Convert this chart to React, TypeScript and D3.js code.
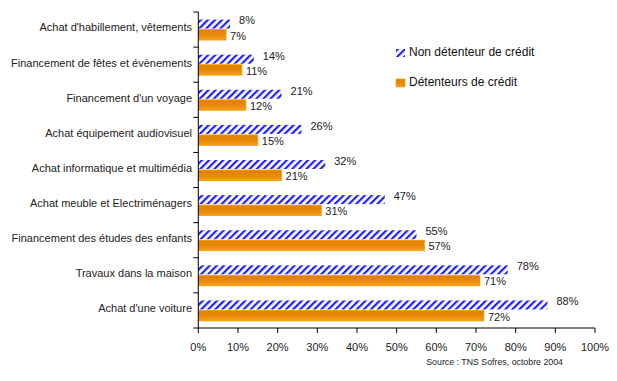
import React from "react";
import * as d3 from "d3";

const categories = [
  "Achat d'habillement, vêtements",
  "Financement de fêtes et évènements",
  "Financement d'un voyage",
  "Achat équipement audiovisuel",
  "Achat informatique et multimédia",
  "Achat meuble et Electriménagers",
  "Financement des études des enfants",
  "Travaux dans la maison",
  "Achat d'une voiture",
];
const nonDetenteur = [8, 14, 21, 26, 32, 47, 55, 78, 88];
const detenteurs = [7, 11, 12, 15, 21, 31, 57, 71, 72];
const xTicks = [0, 10, 20, 30, 40, 50, 60, 70, 80, 90, 100];
const seriesNames = ["Non détenteur de crédit", "Détenteurs de crédit"];
const source = "Source : TNS Sofres, octobre 2004";

const W = 617;
const H = 381;
const FONT = "'Liberation Sans', Arial, sans-serif";

export default function App() {
  const x = d3.scaleLinear().domain([0, 100]).range([198.3, 595]);
  const y = d3.scaleBand<string>().domain(categories).range([12, 328]).paddingInner(0).paddingOuter(0);
  const bw = y.bandwidth();
  const barH = 10.5;
  const axisY = 328;

  return (
    <svg
      width={W}
      height={H}
      style={{ position: "absolute", left: 0, top: 0, background: "#fff" }}
      fontFamily={FONT}
    >
      <defs>
        <pattern id="hatch" width="5" height="5" patternUnits="userSpaceOnUse" patternTransform="rotate(45)">
          <rect x="0" y="0" width="5" height="5" fill="#fff" />
          <rect x="0" y="0" width="2.2" height="5" fill="#1f1fff" />
        </pattern>
        <linearGradient id="orangeGrad" x1="0" y1="0" x2="0" y2="1">
          <stop offset="0%" stopColor="#e07f00" />
          <stop offset="55%" stopColor="#e8890a" />
          <stop offset="100%" stopColor="#f5a21a" />
        </linearGradient>
      </defs>

      {categories.map((c, i) => {
        const y0 = y(c)!;
        const mid = y0 + bw / 2;
        const yBlue = mid - barH + 0.5;
        const yOr = mid;
        return (
          <g key={c}>
            <rect
              x={x(0)}
              y={yBlue}
              width={x(nonDetenteur[i]) - x(0)}
              height={barH - 1.5}
              fill="url(#hatch)"
            />
            <rect
              x={x(0)}
              y={yOr}
              width={x(detenteurs[i]) - x(0)}
              height={barH}
              fill="url(#orangeGrad)"
              stroke="#f5a000"
              strokeWidth={0.8}
            />
            <text
              x={x(nonDetenteur[i]) + 9}
              y={yBlue + 2}
              fontSize={11}
              fill="#222"
              dominantBaseline="middle"
            >
              {nonDetenteur[i]}%
            </text>
            <text
              x={x(detenteurs[i]) + 4}
              y={yOr + barH / 2 + 2}
              fontSize={11}
              fill="#222"
              dominantBaseline="middle"
            >
              {detenteurs[i]}%
            </text>
            <text
              x={192}
              y={mid - 1}
              fontSize={11}
              fill="#222"
              textAnchor="end"
              dominantBaseline="middle"
            >
              {c}
            </text>
          </g>
        );
      })}

      {/* y axis */}
      <line x1={x(0)} x2={x(0)} y1={12} y2={axisY} stroke="#000" strokeWidth={1} />
      {categories.map((c, i) => (
        <line key={"yt" + i} x1={x(0) - 5} x2={x(0)} y1={y(c)!} y2={y(c)!} stroke="#000" />
      ))}
      <line x1={x(0) - 5} x2={x(0)} y1={axisY} y2={axisY} stroke="#000" />

      {/* x axis */}
      <line x1={x(0)} x2={x(100)} y1={axisY} y2={axisY} stroke="#000" strokeWidth={1} />
      {xTicks.map((t) => (
        <g key={"xt" + t}>
          <line x1={x(t)} x2={x(t)} y1={axisY} y2={axisY + 5} stroke="#000" />
          <text x={x(t)} y={348} fontSize={11} fill="#222" textAnchor="middle" dominantBaseline="middle">
            {t}%
          </text>
        </g>
      ))}

      <text x={563} y={363} fontSize={8.8} fill="#222" textAnchor="end" dominantBaseline="middle">
        {source}
      </text>

      {/* legend */}
      <rect x={396} y={49} width={9} height={8} fill="url(#hatch)" />
      <text x={409} y={53} fontSize={12} fill="#111" dominantBaseline="middle">
        {seriesNames[0]}
      </text>
      <rect x={396} y={79} width={9} height={8} fill="url(#orangeGrad)" stroke="#f5a000" strokeWidth={0.6} />
      <text x={409} y={83} fontSize={12} fill="#111" dominantBaseline="middle">
        {seriesNames[1]}
      </text>
    </svg>
  );
}
